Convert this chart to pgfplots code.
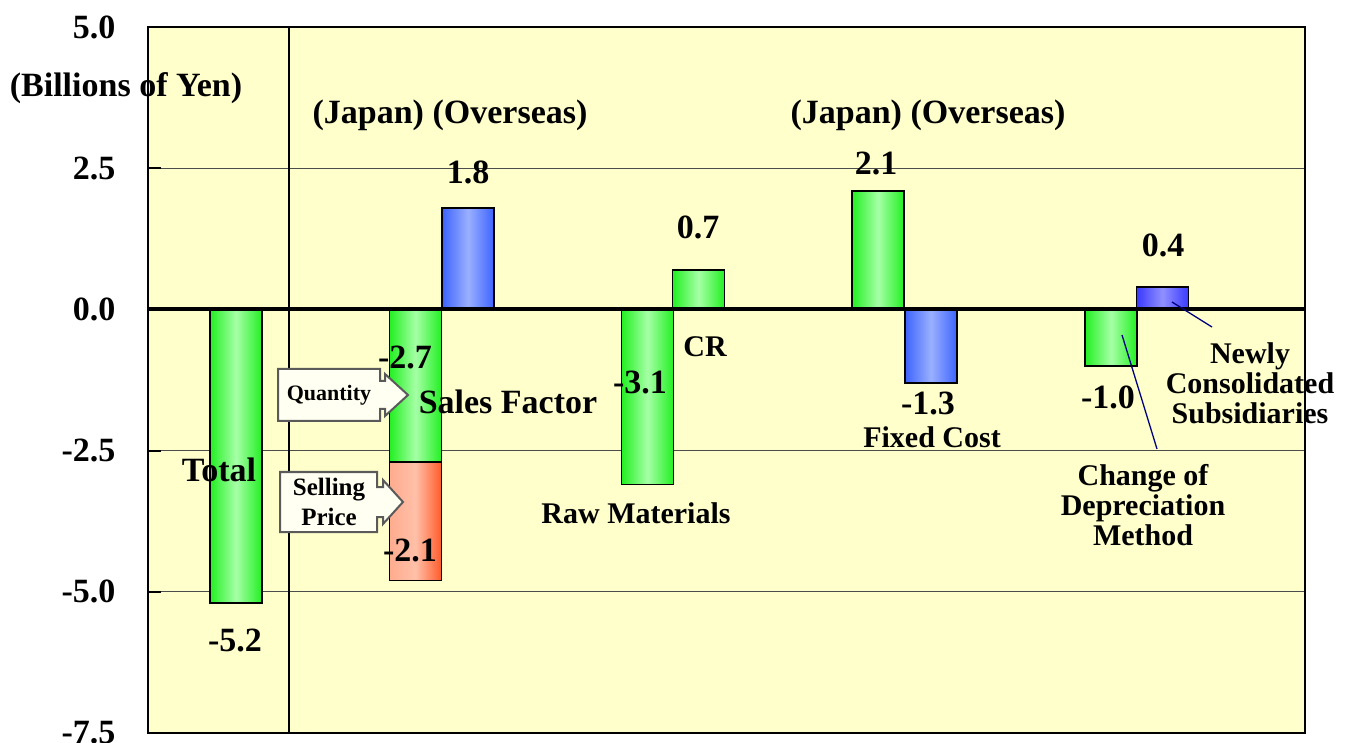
\documentclass[border=0pt]{standalone}
\usepackage{pgfplots}
\pgfplotsset{compat=1.18}
\usepackage{fontspec}
\setmainfont{Liberation Serif}

\definecolor{bg}{HTML}{FFFFCC}
\definecolor{gEdge}{HTML}{22F022}
\definecolor{gMid}{HTML}{A6FFA6}
\definecolor{bEdge}{HTML}{3D63FF}
\definecolor{bMid}{HTML}{9AB0FF}
\definecolor{nEdge}{HTML}{3A3AFF}
\definecolor{nMid}{HTML}{9090FF}
\definecolor{oLight}{HTML}{FFC0A8}
\definecolor{oDark}{HTML}{FF5A2A}
\definecolor{callfill}{HTML}{FFFFF2}
\definecolor{callline}{HTML}{5A5A5A}
\definecolor{leader}{HTML}{000080}

\newcommand{\bigfont}{\fontsize{34}{38}\selectfont\bfseries}
\newcommand{\midfont}{\fontsize{30}{30}\selectfont\bfseries}

\pgfplotsset{
  barbase/.style={ybar, bar width=52, bar shift=0pt, draw=black, line width=1.6pt},
  greenbar/.style={barbase, left color=gEdge, right color=gEdge, middle color=gMid},
  bluebar/.style={barbase, left color=bEdge, right color=bEdge, middle color=bMid},
  navybar/.style={barbase, left color=nEdge, right color=nEdge, middle color=nMid},
  orangebar/.style={barbase, left color=oLight!80!oDark, right color=oDark, middle color=oLight},
}

\begin{document}
\begin{tikzpicture}
\useasboundingbox (0,0) rectangle (1348pt,742pt);
\begin{axis}[
  at={(148pt,9pt)}, anchor=south west,
  scale only axis, width=1157pt, height=706pt,
  xmin=0, xmax=1157, ymin=-7.5, ymax=5,
  axis background/.style={fill=bg},
  axis line style={line width=2pt},
  xtick=\empty,
  ytick={-7.5,-5,-2.5,0,2.5,5},
  ytick pos=left,
  ymajorgrids,
  grid style={draw=black!70, line width=0.8pt},
  major tick style={black, line width=2pt},
  major tick length=13pt,
  tick align=inside,
  yticklabel style={font=\bigfont, anchor=east, xshift=-29pt},
  /pgf/number format/.cd, fixed, fixed zerofill, precision=1, assume math mode=true,
]
% total
\addplot[greenbar] coordinates {(88,-5.2)};
% sales factor: quantity (Japan) with selling price stacked below it
\addplot[orangebar] coordinates {(267.5,{-2.7-2.1})};
\addplot[greenbar] coordinates {(267.5,-2.7)};
\addplot[bluebar] coordinates {(320,1.8)};
% raw materials and CR
\addplot[greenbar] coordinates {(499.5,-3.1)};
\addplot[greenbar] coordinates {(550.5,0.7)};
% fixed cost
\addplot[greenbar] coordinates {(730,2.1)};
\addplot[bluebar] coordinates {(783,-1.3)};
% depreciation method and newly consolidated subsidiaries
\addplot[greenbar] coordinates {(963,-1.0)};
\addplot[navybar] coordinates {(1014.5,0.4)};

\draw[line width=4pt] (axis cs:0,0) -- (axis cs:1159,0);
\draw[line width=2pt] (axis cs:141,-7.5) -- (axis cs:141,5);
\end{axis}

\begin{scope}[x=1pt, y=-1pt, shift={(0pt,742pt)}]
  \node[font=\bigfont] at (126,88) {(Billions of Yen)};
  \node[font=\bigfont] at (450,115) {(Japan) (Overseas)};
  \node[font=\bigfont] at (928,115) {(Japan) (Overseas)};

  \node[font=\bigfont] at (468,172) {1.8};
  \node[font=\bigfont] at (698,227) {0.7};
  \node[font=\bigfont] at (876,163) {2.1};
  \node[font=\bigfont] at (1163,245) {0.4};
  \node[font=\bigfont] at (405,357) {-2.7};
  \node[font=\bigfont] at (640,382) {-3.1};
  \node[font=\bigfont] at (928,403) {-1.3};
  \node[font=\bigfont] at (1108,397) {-1.0};
  \node[font=\bigfont] at (235,640) {-5.2};
  \node[font=\bigfont] at (410,550) {-2.1};

  \node[font=\bigfont] at (508,402) {Sales Factor};
  \node[font=\bigfont] at (219,470) {Total};
  \node[font=\midfont] at (705,347) {CR};
  \node[font=\midfont] at (932,437) {Fixed Cost};
  \node[font=\midfont] at (636,513) {Raw Materials};
  \node[font=\midfont, align=center] at (1250,383) {Newly\\Consolidated\\Subsidiaries};
  \node[font=\midfont, align=center] at (1143,505) {Change of\\Depreciation\\Method};

  \draw[leader, line width=1.3pt] (1122,335) -- (1157,449);
  \draw[leader, line width=1.3pt] (1172,302) -- (1212,327);

  \draw[callline, fill=callfill, line width=2pt, line join=miter]
    (278,369) -- (380,369) -- (380,381) -- (385,381) -- (385,374) -- (408,395)
    -- (385,416) -- (385,409) -- (380,409) -- (380,421) -- (278,421) -- cycle;
  \node[font=\fontsize{22}{24}\selectfont\bfseries] at (329,395) {Quantity};
  \draw[callline, fill=callfill, line width=2pt, line join=miter]
    (280,472) -- (377,472) -- (377,487) -- (383,487) -- (383,480) -- (403,502)
    -- (383,524) -- (383,517) -- (377,517) -- (377,532) -- (280,532) -- cycle;
  \node[font=\fontsize{25}{30}\selectfont\bfseries, align=center] at (329,502) {Selling\\Price};
\end{scope}
\end{tikzpicture}
\end{document}
